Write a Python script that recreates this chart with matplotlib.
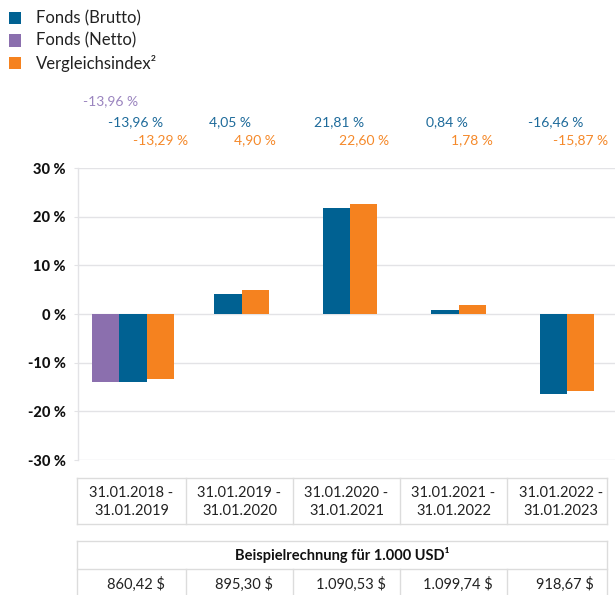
import matplotlib
matplotlib.use("Agg")
import matplotlib.pyplot as plt
import matplotlib.transforms as mtransforms
from matplotlib.patches import Rectangle

# ---------------- data ----------------
periods = ["31.01.2018 -\n31.01.2019", "31.01.2019 -\n31.01.2020", "31.01.2020 -\n31.01.2021",
           "31.01.2021 -\n31.01.2022", "31.01.2022 -\n31.01.2023"]
fonds_brutto = [-13.96, 4.05, 21.81, 0.84, -16.46]
fonds_netto = [-13.96, None, None, None, None]
vergleichsindex = [-13.29, 4.90, 22.60, 1.78, -15.87]
beispiel_values = ["860,42 $", "895,30 $", "1.090,53 $", "1.099,74 $", "918,67 $"]
series_names = ["Fonds (Brutto)", "Fonds (Netto)", "Vergleichsindex\u00b2"]
yticks = [-30, -20, -10, 0, 10, 20, 30]
table_title = "Beispielrechnung für 1.000 USD\u00b9"

# ---------------- style ----------------
C_BLUE = "#006192"
C_PURPLE = "#8b6fae"
C_ORANGE = "#f5821f"
L_BLUE = "#1d6a9a"
L_PURPLE = "#9a84bf"
L_ORANGE = "#f5892a"
GRID = "#e3e3e6"
BORDER = "#dcdcdc"
FONT = "Lato"
plt.rcParams["font.family"] = [FONT, "DejaVu Sans"]

W, H = 615, 595
fig = plt.figure(figsize=(W / 100, H / 100), dpi=100)

def fx(px):
    return px / W

def fy(py):
    return 1 - py / H

ax_left, ax_top, ax_bottom = 78, 168, 460
ax = fig.add_axes([fx(ax_left), fy(ax_bottom), fx(W - ax_left), (ax_bottom - ax_top) / H])
ax.set_ylim(-30, 30)
ax.set_xlim(-0.507, 4.442)

bw = 0.25
trans = mtransforms.blended_transform_factory(ax.transData, fig.transFigure)
for i in range(len(periods)):
    has_netto = fonds_netto[i] is not None
    if has_netto:
        offs = {"netto": -bw, "brutto": 0.0, "index": bw}
        ax.bar(i + offs["netto"], fonds_netto[i], width=bw, color=C_PURPLE, zorder=3)
    else:
        offs = {"brutto": -bw / 2, "index": bw / 2}
    ax.bar(i + offs["brutto"], fonds_brutto[i], width=bw, color=C_BLUE, zorder=3)
    ax.bar(i + offs["index"], vergleichsindex[i], width=bw, color=C_ORANGE, zorder=3)

    if has_netto:
        ax.text(i + offs["netto"] + 0.04, fy(101), f"{fonds_netto[i]:.2f} %".replace(".", ","),
                transform=trans, ha="center", va="center", fontsize=10, color=L_PURPLE)
    ax.text(i + offs["brutto"] + 0.02, fy(122), f"{fonds_brutto[i]:.2f} %".replace(".", ","),
            transform=trans, ha="center", va="center", fontsize=10, color=L_BLUE)
    ax.text(i + offs["index"], fy(140), f"{vergleichsindex[i]:.2f} %".replace(".", ","),
            transform=trans, ha="center", va="center", fontsize=10, color=L_ORANGE)

ax.set_yticks(yticks)
ax.set_yticklabels([f"{t} %" for t in yticks], fontsize=10.5, fontweight=900, color="#111111")
ax.set_xticks([])
ax.grid(axis="y", color=GRID, linewidth=1.0, zorder=0)
ax.tick_params(axis="y", length=3, color=GRID, pad=6)
for s in ["top", "right", "bottom"]:
    ax.spines[s].set_visible(False)
ax.spines["left"].set_color(GRID)
ax.spines["left"].set_linewidth(1.0)

# ---------------- legend ----------------
leg_colors = [C_BLUE, C_PURPLE, C_ORANGE]
for k, (name, col) in enumerate(zip(series_names, leg_colors)):
    yc = 18 + k * 22.5
    fig.add_artist(Rectangle((fx(9), fy(yc + 6)), 12 / W, 12 / H, transform=fig.transFigure,
                             color=col, lw=0))
    fig.text(fx(36), fy(yc), name, ha="left", va="center", fontsize=12, color="#222222")

# ---------------- tables ----------------
bounds_px = [77, 186, 293, 400, 507, 607]
cell_centers = [(a + b) / 2 for a, b in zip(bounds_px[:-1], bounds_px[1:])]
cell_centers[-1] += 4

def hline(y, x0, x1):
    fig.add_artist(plt.Line2D([fx(x0), fx(x1)], [fy(y), fy(y)], color=BORDER, lw=1.0,
                              transform=fig.transFigure))

def vline(x, y0, y1):
    fig.add_artist(plt.Line2D([fx(x), fx(x)], [fy(y0), fy(y1)], color=BORDER, lw=1.0,
                              transform=fig.transFigure))

# table 1: periods
t1_top, t1_bot = 478, 524
hline(t1_top, bounds_px[0], bounds_px[-1])
hline(t1_bot, bounds_px[0], bounds_px[-1])
for b in bounds_px:
    vline(b, t1_top, t1_bot)
for c, p in zip(cell_centers, periods):
    fig.text(fx(c), fy((t1_top + t1_bot) / 2 + 1), p, ha="center", va="center", fontsize=10.5,
             color="#222222", linespacing=1.35)

# table 2: example calculation
t2_top, t2_mid, t2_bot = 541, 569, 600
hline(t2_top, bounds_px[0], bounds_px[-1])
hline(t2_mid, bounds_px[0], bounds_px[-1])
vline(bounds_px[0], t2_top, t2_bot)
vline(bounds_px[-1], t2_top, t2_bot)
for b in bounds_px[1:-1]:
    vline(b, t2_mid, t2_bot)
fig.text(fx((bounds_px[0] + bounds_px[-1]) / 2), fy(555), table_title, ha="center", va="center",
         fontsize=10.5, fontweight="bold", color="#111111")
for c, v in zip(cell_centers, beispiel_values):
    fig.text(fx(c + 4), fy(584), v, ha="center", va="center", fontsize=10.5, color="#222222")

fig.savefig("out.png", dpi=100)
